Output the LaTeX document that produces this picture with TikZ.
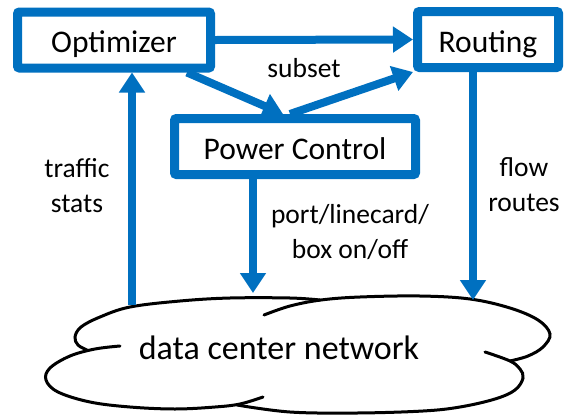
\documentclass[tikz,border=0pt]{standalone}
\usepackage{fontspec}
\setmainfont{Carlito}
\usepackage{tikz}
\usetikzlibrary{arrows.meta}
\definecolor{ctrlblue}{RGB}{0,112,192}

\begin{document}
\begin{tikzpicture}[x=1pt, y=-1pt,
    block/.style={draw=ctrlblue, line width=9pt, rounded corners=2pt, fill=white,
      minimum height=56pt, inner sep=0pt, text height=25.5pt, text depth=0pt,
      font=\fontsize{31.5}{36}\selectfont},
    flow/.style={draw=ctrlblue, line width=8pt, -{Triangle[length=20pt,width=25pt]}},
    lbl/.style={align=center, inner sep=0pt, font=\fontsize{27.5}{35}\selectfont},
    cloudline/.style={draw=black, line width=3pt, line cap=round}]
  \def\tn{0.6}

  \useasboundingbox (0, 0) rectangle (566, 416);

  \node[block, minimum width=193pt] (opt)  at (114, 40)    {Optimizer};
  \node[block, minimum width=141pt] (rout) at (488, 39.5)  {Routing};
  \node[block, minimum width=241pt] (pc)   at (295, 146.5) {Power Control};

  \node[lbl, anchor=base] (subset)  at (304, 77)  {subset};
  \node[lbl]              (traffic) at (77, 186)  {traffic\\stats};
  \node[lbl]              (routes)  at (524, 185) {flow\\routes};
  \node[lbl]              (onoff)   at (350, 232) {port/linecard/\\box on/off};

  \node[lbl, anchor=base, font=\fontsize{34}{40}\selectfont] (net) at (279, 359)
    {data center network};

  \draw[cloudline] plot[smooth, tension=\tn] coordinates {(87,350) (78,345) (75,337)
    (81,327) (100,317) (130,307) (180,301) (230,298) (290,298) (320,300)};
  \draw[cloudline] plot[smooth, tension=\tn] coordinates {(264,315) (290,306) (321,300)
    (360,297) (420,296) (470,299) (510,308) (538,320) (550,334) (543,347) (528,356) (510,361)};
  \draw[cloudline] plot[smooth, tension=\tn] coordinates {(485,352) (510,361) (520,369)
    (523,378) (515,390) (495,399) (460,407) (423,411) (357,413) (290,412) (237,405)};
  \draw[cloudline] plot[smooth, tension=\tn] coordinates {(120,346) (95,349) (70,356)
    (50,368) (46,380) (58,392) (90,402) (130,407) (175,409) (215,407) (240,404) (263,397)};

  \coordinate (net1) at (132, 305);
  \coordinate (net2) at (253, 293);
  \coordinate (net3) at (473, 300);

  \draw[flow] (opt.east) -- (rout.west);
  \draw[flow] ([xshift=73pt]opt.south) -- ([xshift=-12pt]pc.north);
  \draw[flow] ([xshift=-5pt]pc.north) -- (rout.south west);

  \draw[flow] (net1) -- (net1 |- opt.south);
  \draw[flow] (pc.south -| net2) -- (net2);
  \draw[flow] (rout.south -| net3) -- (net3);
\end{tikzpicture}
\end{document}
